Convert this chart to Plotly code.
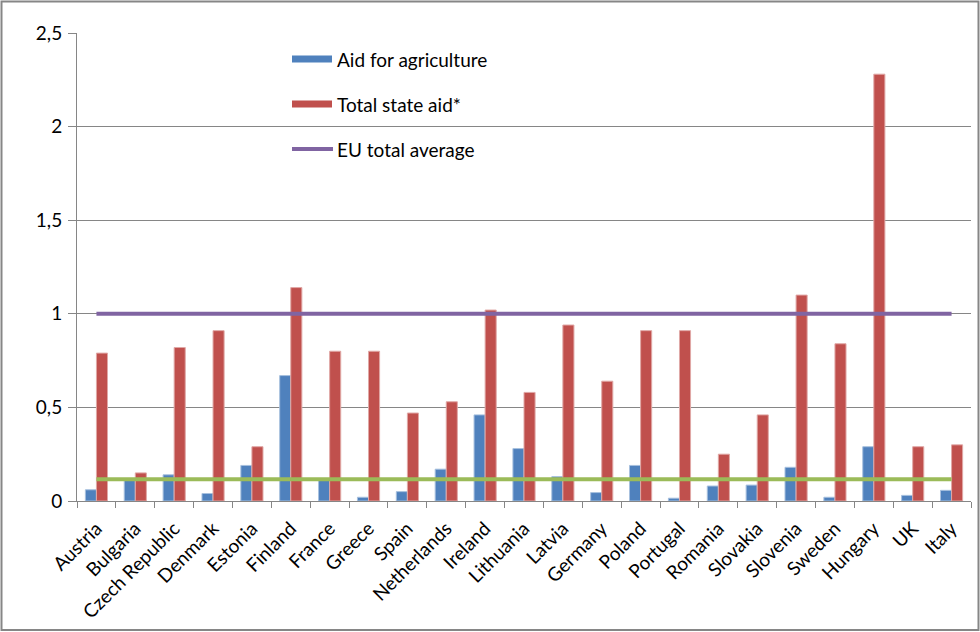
import plotly.graph_objects as go

countries = ["Austria", "Bulgaria", "Czech Republic", "Denmark", "Estonia", "Finland",
             "France", "Greece", "Spain", "Netherlands", "Ireland", "Lithuania", "Latvia",
             "Germany", "Poland", "Portugal", "Romania", "Slovakia", "Slovenia", "Sweden",
             "Hungary", "UK", "Italy"]
aid_agriculture = [0.06, 0.11, 0.14, 0.04, 0.19, 0.67, 0.11, 0.02, 0.05, 0.17, 0.46, 0.28,
                   0.13, 0.045, 0.19, 0.015, 0.08, 0.085, 0.18, 0.02, 0.29, 0.03, 0.057]
total_state_aid = [0.79, 0.15, 0.82, 0.91, 0.29, 1.14, 0.80, 0.80, 0.47, 0.53, 1.02, 0.58,
                   0.94, 0.64, 0.91, 0.91, 0.25, 0.46, 1.10, 0.84, 2.28, 0.29, 0.30]
eu_total_average = 1.0
eu_agri_average = 0.116
y_ticks = [0, 0.5, 1, 1.5, 2, 2.5]

BLUE = "#4F81BD"
RED = "#C0504D"
PURPLE = "#8064A2"
GREEN = "#9BBB59"
FONT = "Lato, 'Open Sans', sans-serif"

fig = go.Figure()
fig.add_trace(go.Bar(x=countries, y=aid_agriculture, name="Aid for agriculture",
                     marker=dict(color=BLUE, line=dict(color="#A7C0DE", width=1))))
fig.add_trace(go.Bar(x=countries, y=total_state_aid, name="Total state aid*",
                     marker=dict(color=RED, line=dict(color="#E0A8A6", width=1))))
fig.add_trace(go.Scatter(x=[countries[0], countries[-1]], y=[eu_total_average] * 2,
                         mode="lines", name="EU total average",
                         line=dict(color=PURPLE, width=4)))
fig.add_trace(go.Scatter(x=[countries[0], countries[-1]], y=[eu_agri_average] * 2,
                         mode="lines", name="EU agriculture average",
                         line=dict(color=GREEN, width=4)))

# plot area in pixels: x 77..971, y 33..501
L, R, T, B = 77, 971, 33, 501
W, H = R - L, B - T


def px(xp):
    return (xp - L) / W


def py(yp):
    return (B - yp) / H


shapes = []
annotations = []
legend_items = [("Aid for agriculture", BLUE, "bar", 59),
                ("Total state aid*", RED, "bar", 104),
                ("EU total average", PURPLE, "line", 149)]
for label, color, kind, yc in legend_items:
    if kind == "bar":
        shapes.append(dict(type="rect", xref="paper", yref="paper",
                           x0=px(292), x1=px(332), y0=py(yc + 3.5), y1=py(yc - 3.5),
                           fillcolor=color, line=dict(width=0)))
    else:
        shapes.append(dict(type="line", xref="paper", yref="paper",
                           x0=px(292), x1=px(333), y0=py(yc), y1=py(yc),
                           line=dict(color=color, width=4)))
    annotations.append(dict(xref="paper", yref="paper", x=px(335), y=py(yc),
                            text=label, showarrow=False, xanchor="left", yanchor="middle",
                            font=dict(family=FONT, size=19, color="#000000")))

# outer chart border
shapes.append(dict(type="rect", xref="paper", yref="paper",
                   x0=px(1.5), x1=px(978.5), y0=py(630), y1=py(1.5),
                   line=dict(color="#868686", width=2), fillcolor="rgba(0,0,0,0)",
                   layer="above"))

fig.update_layout(
    width=980, height=632,
    margin=dict(l=L, r=980 - R, t=T, b=632 - B),
    paper_bgcolor="white", plot_bgcolor="white",
    barmode="group", bargap=0.43, bargroupgap=0,
    showlegend=False,
    separators=", ",
    font=dict(family=FONT, size=18, color="#000000"),
    shapes=shapes, annotations=annotations,
    xaxis=dict(type="category", tickangle=-45, showgrid=False, showline=True,
               linecolor="#868686", linewidth=1, ticks="outside", tickson="boundaries",
               ticklen=6, tickcolor="#868686", ticklabelstandoff=8,
               tickfont=dict(family=FONT, size=19, color="#000000")),
    yaxis=dict(range=[0, 2.5], tickvals=y_ticks, showgrid=True, gridcolor="#868686",
               gridwidth=1, showline=True, linecolor="#868686", linewidth=1,
               ticks="outside", ticklen=8, tickcolor="#868686", zeroline=False,
               ticklabelstandoff=2,
               tickfont=dict(family=FONT, size=19, color="#000000")),
)

fig.write_html("out.html")
